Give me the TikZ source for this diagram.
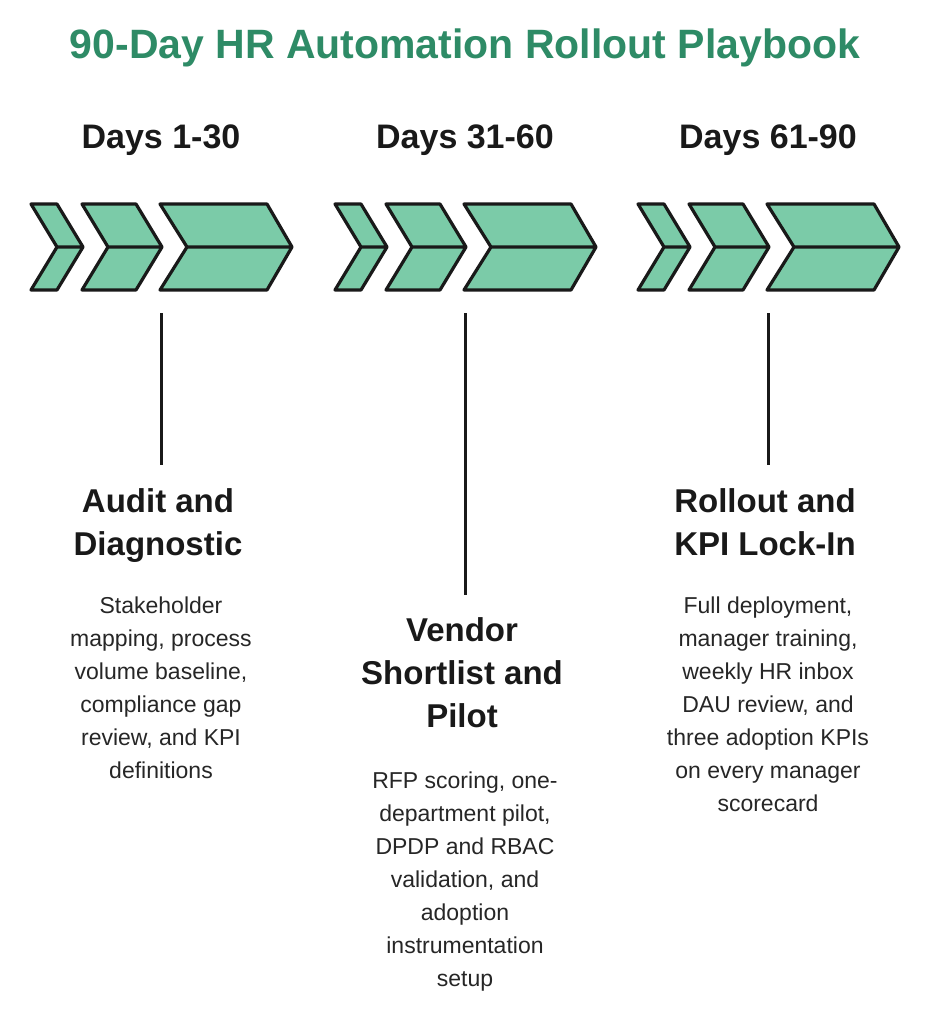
\documentclass[tikz,border=0pt]{standalone}
\usepackage{fontspec}
\setmainfont{Liberation Sans}
\begin{document}
\begin{tikzpicture}[x=1pt,y=-1pt,
  chev/.style={draw=black!90,fill=chevfill,line width=3.2pt,line join=round},
  ttl/.style={font=\fontsize{41}{48}\selectfont\bfseries,text=titlegreen},
  days/.style={font=\fontsize{34}{40}\selectfont\bfseries,text=black!90},
  head/.style={font=\fontsize{33}{43}\selectfont\bfseries,align=center,text=black!90,anchor=north},
  body/.style={font=\fontsize{23}{33}\selectfont,align=center,text=black!85,anchor=north},
  conn/.style={draw=black!90,line width=3pt}]
\definecolor{chevfill}{HTML}{7BCBA8}
\definecolor{titlegreen}{HTML}{2E8B66}
\useasboundingbox (0,0) rectangle (930,1024);
\node[ttl] (title) at (465,48) {90-Day HR Automation Rollout Playbook};
\foreach \i/\ox/\lab in {1/0/Days 1-30,2/304/Days 31-60,3/607/Days 61-90}{
  \begin{scope}[xshift=\ox]
  \node[days] (d\i) at (161,140) {\lab};
  \draw[chev] (31,204)--(57,204)--(83,247)--(57,290)--(31,290)--(57,247)--cycle (57,247)--(83,247);
  \draw[chev] (82,204)--(136,204)--(162,247)--(136,290)--(82,290)--(108,247)--cycle (108,247)--(162,247);
  \draw[chev] (160,204)--(267,204)--(292,247)--(267,290)--(160,290)--(187,247)--cycle (187,247)--(292,247);
  \end{scope}
}
\coordinate (c1) at (161,313);
\coordinate (c2) at (465,313);
\coordinate (c3) at (768,313);
\node[head] (h1) at (158,485) {Audit and\\Diagnostic};
\node[body] (b1) at (161,593) {Stakeholder\\mapping, process\\volume baseline,\\compliance gap\\review, and KPI\\definitions};
\node[head] (h2) at (462,614) {Vendor\\Shortlist and\\Pilot};
\node[body] (b2) at (465,768) {RFP scoring, one-\\department pilot,\\DPDP and RBAC\\validation, and\\adoption\\instrumentation\\setup};
\node[head] (h3) at (765,485) {Rollout and\\KPI Lock-In};
\node[body] (b3) at (768,593) {Full deployment,\\manager training,\\weekly HR inbox\\DAU review, and\\three adoption KPIs\\on every manager\\scorecard};
\draw[conn] (c1) -- (161,465);
\draw[conn] (c2) -- (465,595);
\draw[conn] (c3) -- (768,465);
\end{tikzpicture}
\end{document}
